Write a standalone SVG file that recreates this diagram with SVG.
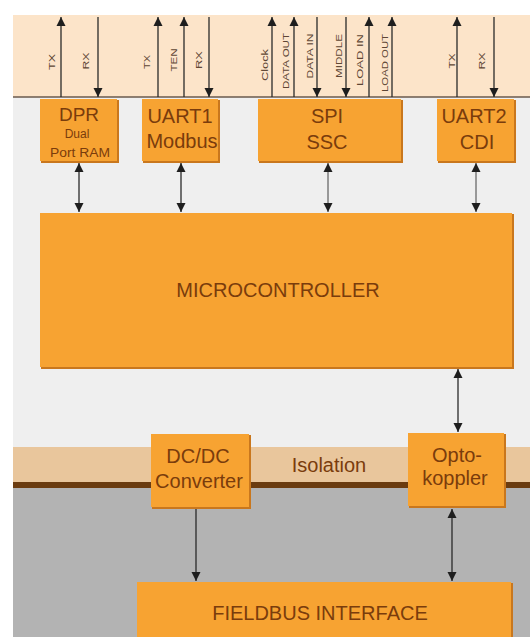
<svg xmlns="http://www.w3.org/2000/svg" width="530" height="637" viewBox="0 0 530 637">
<style>
.box{fill:#f7a332}
.shd{fill:#c9771d}
.t{font-family:"Liberation Sans",Arial,sans-serif;fill:#7a3c0c;text-anchor:middle}
.big{font-size:20px}
.sm{font-size:12px}
.lab{font-family:"Liberation Sans",Arial,sans-serif;font-size:9.5px;fill:#5e4634;text-anchor:middle}
.ln{stroke:#2a2a2a;stroke-width:1.3;fill:none}
.lg{stroke:#6a6a6a;stroke-width:1.3;fill:none}
</style>
<defs>
<marker id="ah" viewBox="0 0 10 10" refX="10" refY="5" markerWidth="9" markerHeight="10" markerUnits="userSpaceOnUse" orient="auto-start-reverse"><path d="M0,0 L10,5 L0,10 z" fill="#1e1e1e"/></marker>
</defs>
<g id="background">
<rect x="0" y="0" width="530" height="637" fill="#ffffff"/>
<rect x="13" y="15" width="517" height="82" fill="#fce4c9"/>
<rect x="13" y="97" width="517" height="350" fill="#efefef"/>
<rect x="13" y="447" width="517" height="36" fill="#e9c69c"/>
<rect x="13" y="488" width="517" height="149" fill="#b3b3b3"/>
<rect x="13" y="482" width="517" height="6" fill="#6b3c10"/>
<line x1="13" y1="97" x2="530" y2="97" stroke="#6a5a4c" stroke-width="1.5"/>
<text class="t big" x="329" y="472">Isolation</text>
</g>
<g id="connectors">
<line class="ln" x1="61" y1="97" x2="61" y2="17" marker-end="url(#ah)"/>
<line class="ln" x1="98" y1="17" x2="98" y2="97" marker-end="url(#ah)"/>
<line class="ln" x1="158" y1="97" x2="158" y2="17" marker-end="url(#ah)"/>
<line class="ln" x1="184" y1="97" x2="184" y2="17" marker-end="url(#ah)"/>
<line class="ln" x1="209" y1="17" x2="209" y2="97" marker-end="url(#ah)"/>
<line class="ln" x1="272" y1="97" x2="272" y2="17" marker-end="url(#ah)"/>
<line class="ln" x1="294" y1="97" x2="294" y2="17" marker-end="url(#ah)"/>
<line class="ln" x1="317" y1="17" x2="317" y2="97" marker-end="url(#ah)"/>
<line class="ln" x1="346" y1="17" x2="346" y2="97" marker-end="url(#ah)"/>
<line class="ln" x1="369" y1="97" x2="369" y2="17" marker-end="url(#ah)"/>
<line class="ln" x1="392" y1="97" x2="392" y2="17" marker-end="url(#ah)"/>
<line class="ln" x1="457" y1="97" x2="457" y2="17" marker-end="url(#ah)"/>
<line class="ln" x1="494" y1="17" x2="494" y2="97" marker-end="url(#ah)"/>
<line class="ln" x1="79" y1="163" x2="79" y2="212" marker-start="url(#ah)" marker-end="url(#ah)"/>
<line class="ln" x1="181" y1="163" x2="181" y2="212" marker-start="url(#ah)" marker-end="url(#ah)"/>
<line class="lg" x1="328" y1="163" x2="328" y2="212" marker-start="url(#ah)" marker-end="url(#ah)"/>
<line class="lg" x1="476" y1="163" x2="476" y2="212" marker-start="url(#ah)" marker-end="url(#ah)"/>
<line class="ln" x1="458" y1="369" x2="458" y2="432" marker-start="url(#ah)" marker-end="url(#ah)"/>
<line class="ln" x1="196" y1="509" x2="196" y2="581" marker-end="url(#ah)"/>
<line class="ln" x1="452" y1="509" x2="452" y2="581" marker-start="url(#ah)" marker-end="url(#ah)"/>
<text class="lab" transform="translate(55,62) rotate(-90)" textLength="16" lengthAdjust="spacingAndGlyphs">TX</text>
<text class="lab" transform="translate(89,61) rotate(-90)" textLength="17" lengthAdjust="spacingAndGlyphs">RX</text>
<text class="lab" transform="translate(150,62) rotate(-90)" textLength="14" lengthAdjust="spacingAndGlyphs">TX</text>
<text class="lab" transform="translate(177,60) rotate(-90)" textLength="23" lengthAdjust="spacingAndGlyphs">TEN</text>
<text class="lab" transform="translate(202,60) rotate(-90)" textLength="18" lengthAdjust="spacingAndGlyphs">RX</text>
<text class="lab" transform="translate(268,65) rotate(-90)" textLength="32" lengthAdjust="spacingAndGlyphs">Clock</text>
<text class="lab" transform="translate(289,61) rotate(-90)" textLength="56" lengthAdjust="spacingAndGlyphs">DATA OUT</text>
<text class="lab" transform="translate(313,56) rotate(-90)" textLength="45" lengthAdjust="spacingAndGlyphs">DATA IN</text>
<text class="lab" transform="translate(342,56) rotate(-90)" textLength="44" lengthAdjust="spacingAndGlyphs">MIDDLE</text>
<text class="lab" transform="translate(363,60) rotate(-90)" textLength="52" lengthAdjust="spacingAndGlyphs">LOAD IN</text>
<text class="lab" transform="translate(388,63) rotate(-90)" textLength="58" lengthAdjust="spacingAndGlyphs">LOAD OUT</text>
<text class="lab" transform="translate(455,61) rotate(-90)" textLength="15" lengthAdjust="spacingAndGlyphs">TX</text>
<text class="lab" transform="translate(485,61) rotate(-90)" textLength="17" lengthAdjust="spacingAndGlyphs">RX</text>
</g>
<g id="dpr">
<rect class="shd" x="41" y="100" width="78" height="63"/>
<rect class="box" x="40" y="99" width="77" height="62"/>
<text class="t" x="79" y="121" font-size="19">DPR</text>
<text class="t sm" x="77" y="138" font-size="11">Dual</text>
<text class="t sm" x="80" y="157" textLength="60" lengthAdjust="spacingAndGlyphs">Port RAM</text>
</g>
<g id="uart1">
<rect class="shd" x="143" y="100" width="77" height="63"/>
<rect class="box" x="142" y="99" width="76" height="62"/>
<text class="t big" x="180" y="123">UART1</text>
<text class="t big" x="182" y="148">Modbus</text>
</g>
<g id="spi">
<rect class="shd" x="259" y="100" width="144" height="63"/>
<rect class="box" x="258" y="99" width="143" height="62"/>
<text class="t big" x="327" y="123">SPI</text>
<text class="t big" x="327" y="149">SSC</text>
</g>
<g id="uart2">
<rect class="shd" x="438" y="100" width="78" height="63"/>
<rect class="box" x="437" y="99" width="77" height="62"/>
<text class="t big" x="474" y="123">UART2</text>
<text class="t big" x="477" y="149">CDI</text>
</g>
<g id="microcontroller">
<rect class="shd" x="41" y="214" width="473" height="155"/>
<rect class="box" x="40" y="213" width="472" height="154"/>
<text class="t big" x="278" y="297">MICROCONTROLLER</text>
</g>
<g id="dcdc">
<rect class="shd" x="152" y="435" width="99" height="74"/>
<rect class="box" x="151" y="434" width="98" height="73"/>
<text class="t big" x="198" y="463">DC/DC</text>
<text class="t big" x="199" y="488">Converter</text>
</g>
<g id="optokoppler">
<rect class="shd" x="409" y="434" width="97" height="74"/>
<rect class="box" x="408" y="433" width="96" height="73"/>
<text class="t big" x="457" y="462">Opto-</text>
<text class="t big" x="455" y="485">koppler</text>
</g>
<g id="fieldbus">
<rect class="shd" x="138" y="583" width="375" height="60"/>
<rect class="box" x="137" y="582" width="374" height="60"/>
<text class="t big" x="320" y="620">FIELDBUS INTERFACE</text>
</g>
</svg>
